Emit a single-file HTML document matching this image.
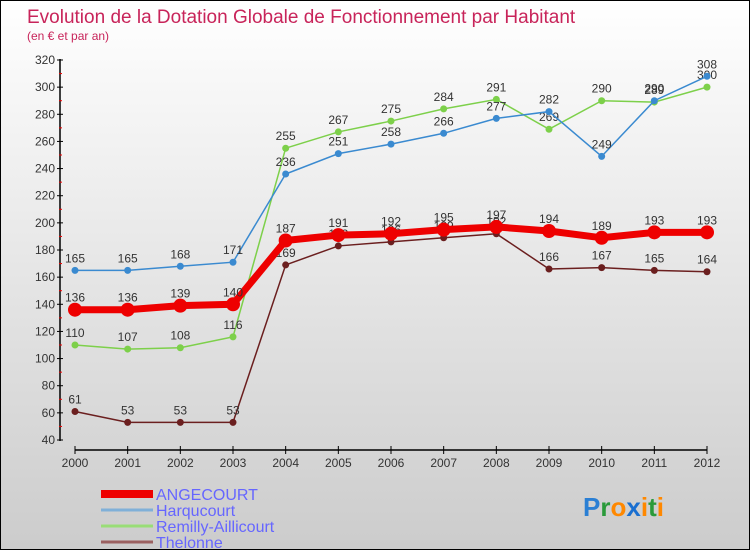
<!DOCTYPE html>
<html><head><meta charset="utf-8"><style>
body{margin:0}
#c{width:748px;height:548px;border:1px solid #000;background:linear-gradient(#fff,#ccc);position:relative;overflow:hidden;font-family:"Liberation Sans",sans-serif}
</style></head><body>
<div id="c">
<svg id="s" width="748" height="548"></svg>
</div>
<script>
const years=['2000','2001','2002','2003','2004','2005','2006','2007','2008','2009','2010','2011','2012'];
const angecourt=[136,136,139,140,187,191,192,195,197,194,189,193,193];
const harqucourt=[165,165,168,171,236,251,258,266,277,282,249,290,308];
const remilly=[110,107,108,116,255,267,275,284,291,269,290,289,300];
const thelonne=[61,53,53,53,169,183,186,189,192,166,167,165,164];
const yTicks=[40,60,80,100,120,140,160,180,200,220,240,260,280,300,320];
const seriesNames=['ANGECOURT','Harqucourt','Remilly-Aillicourt','Thelonne'];
const NS='http://www.w3.org/2000/svg',svg=document.getElementById('s');
function X(i){return 74+i*(632/12);}
function Y(v){return 439-(v-40)*(380/280);}
function el(t,a,txt){const e=document.createElementNS(NS,t);for(const k in a)e.setAttribute(k,a[k]);if(txt!==undefined)e.textContent=txt;svg.appendChild(e);return e;}
let e;
e=el('text',{x:26,y:22,fill:'#c8245a','font-size':19},'Evolution de la Dotation Globale de Fonctionnement par Habitant');

e=el('text',{x:26,y:39,fill:'#c8245a','font-size':12},'(en € et par an)');

e=el('line',{x1:59,y1:58,x2:59,y2:440,stroke:'#000','stroke-width':1.5});

e=el('line',{x1:74,y1:449,x2:706,y2:449,stroke:'#000','stroke-width':1.5});

yTicks.forEach((v,i)=>{
 el('line',{x1:56,y1:Y(v),x2:62,y2:Y(v),stroke:'#000'});
 if(i<yTicks.length-1)el('line',{x1:58,y1:Y(v+10),x2:61,y2:Y(v+10),stroke:'#e00'});
 e=el('text',{x:54,y:Y(v)+4,'text-anchor':'end','font-size':12,fill:'#333'},v);
 
});
years.forEach((y,i)=>{
 el('line',{x1:X(i),y1:445,x2:X(i),y2:453,stroke:'#000'});
 e=el('text',{x:X(i),y:466,'text-anchor':'middle','font-size':12,fill:'#333'},y);
 
});
function series(data,color,w,r,name){
 const g=document.createElementNS(NS,'g');svg.appendChild(g);
 
 
 const p=document.createElementNS(NS,'polyline');
 p.setAttribute('points',data.map((v,i)=>X(i)+','+Y(v)).join(' '));
 p.setAttribute('fill','none');p.setAttribute('stroke',color);p.setAttribute('stroke-width',w);
 g.appendChild(p);
 data.forEach((v,i)=>{
  const c=document.createElementNS(NS,'circle');
  c.setAttribute('cx',X(i));c.setAttribute('cy',Y(v));c.setAttribute('r',r);c.setAttribute('fill',color);
  
  
  g.appendChild(c);
  const t=document.createElementNS(NS,'text');
  t.setAttribute('x',X(i));t.setAttribute('y',Y(v)-8);t.setAttribute('text-anchor','middle');
  t.setAttribute('font-size',12);t.setAttribute('fill','#333');t.textContent=v;
  
  
  g.appendChild(t);
 });
}
series(thelonne,'#6b1f1f',1.5,3.5,'thelonne');
series(remilly,'#7dd04a',1.5,3.5,'remilly-aillicourt');
series(harqucourt,'#3a8ad0',1.5,3.5,'harqucourt');
series(angecourt,'#ee0000',7,7,'angecourt');
const legColors=['#ee0000','#80b0d8','#99dd77','#9a6060'],legW=[8,3,3,3];
seriesNames.forEach((n,i)=>{
 const y=493+i*16;
 e=el('line',{x1:100,y1:y,x2:152,y2:y,stroke:legColors[i],'stroke-width':legW[i]});
 
 e=el('text',{x:155,y:y+6,'font-size':16,fill:'#6666ff'},n);
 
});
e=el('text',{x:582,y:515,'font-size':26,'font-weight':'bold','font-family':'Liberation Sans'},'');

[['P','#2a7fd4'],['r','#2a9a3a'],['o','#ff8800'],['x','#1a6fd0'],['i','#ff8800'],['t','#2a9a3a'],['i','#ff8800']].forEach(([ch,c])=>{
 const ts=document.createElementNS(NS,'tspan');ts.setAttribute('fill',c);ts.textContent=ch;e.appendChild(ts);
});
</script>
</body></html>
